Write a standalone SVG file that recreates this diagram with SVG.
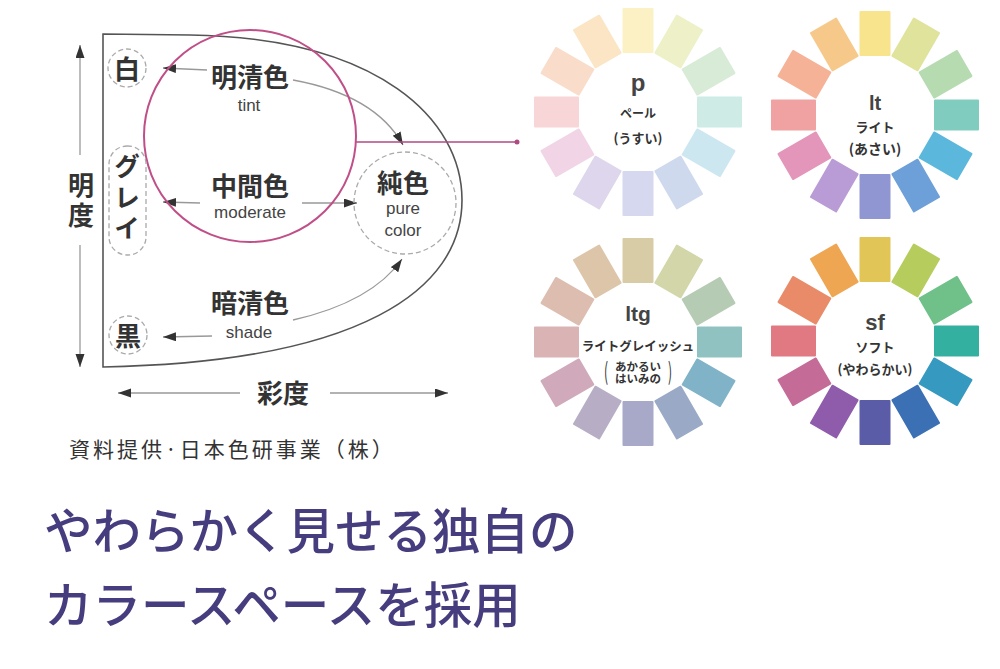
<svg xmlns="http://www.w3.org/2000/svg" xmlns:xlink="http://www.w3.org/1999/xlink" width="1000" height="669" viewBox="0 0 1000 669">
<style>
.jp{font-family:"Noto Sans CJK JP","Noto Sans",sans-serif;fill:#333}
.en{font-family:"Liberation Sans",Arial,sans-serif;fill:#444}
.lbl{font-size:26px;text-anchor:middle}
.vt{font-size:26px;writing-mode:vertical-rl;text-anchor:start;font-weight:bold}
.sub{font-size:17px;text-anchor:middle}
.ln{fill:none;stroke:#999;stroke-width:1.3}
.dash{fill:none;stroke:#aaa;stroke-width:1.3;stroke-dasharray:5 3}
.wt{font-weight:bold;text-anchor:middle}
.title{font-family:"Noto Sans CJK JP",sans-serif;font-size:48.5px;font-weight:500;fill:#463d7e}
</style>
<defs>
<marker id="ah" markerUnits="userSpaceOnUse" markerWidth="14" markerHeight="10" refX="13" refY="4.5" orient="auto">
<path d="M0,0 L13,4.5 L0,9 z" fill="#333"/>
</marker>
<rect id="petal" x="-15.5" y="-104" width="31" height="45" rx="1"/>
</defs>
<rect width="1000" height="669" fill="#fff"/>

<g id="outline">
<path d="M103,34 L190,35 C380,38 462,120 462,200 C462,290 360,362 103,367 Z" fill="none" stroke="#555" stroke-width="1.6"/>
</g>

<g id="axes">
<line class="ln" x1="80" y1="155" x2="80" y2="45" marker-end="url(#ah)"/>
<line class="ln" x1="80" y1="245" x2="80" y2="367" marker-end="url(#ah)"/>
<text class="jp vt" x="81" y="172" letter-spacing="4">明度</text>
<line class="ln" x1="240" y1="393" x2="118" y2="393" marker-end="url(#ah)"/>
<line class="ln" x1="330" y1="393" x2="448" y2="393" marker-end="url(#ah)"/>
<text class="jp lbl" x="283" y="403" font-weight="bold">彩度</text>
</g>

<g id="connectors">
<path class="ln" d="M207,70 L163,68" marker-end="url(#ah)"/>
<path class="ln" d="M293,80 Q375,95 403,145" marker-end="url(#ah)"/>
<path class="ln" d="M200,203 L163,202" marker-end="url(#ah)"/>
<path class="ln" d="M302,203 L357,203" marker-end="url(#ah)"/>
<path class="ln" d="M212,336 L163,337" marker-end="url(#ah)"/>
<path class="ln" d="M293,320 Q372,302 402,259" marker-end="url(#ah)"/>
<line x1="355" y1="142" x2="516" y2="142" stroke="#b04a82" stroke-width="1.5"/>
<circle cx="517" cy="142" r="2.5" fill="#b04a82"/>
</g>

<g id="magenta-circle">
<circle cx="250" cy="136" r="106" fill="none" stroke="#c04f88" stroke-width="2"/>
</g>

<g id="node-white">
<circle class="dash" cx="127" cy="68" r="19"/>
<text class="jp lbl" x="127" y="79" font-weight="bold">白</text>
</g>
<g id="node-gray">
<rect class="dash" x="109" y="146" width="37" height="109" rx="18"/>
<text class="jp vt" x="127" y="153" letter-spacing="5">グレイ</text>
</g>
<g id="node-black">
<circle class="dash" cx="128" cy="335" r="19"/>
<text class="jp lbl" x="128" y="346" font-weight="bold">黒</text>
</g>
<g id="node-tint">
<text class="jp lbl" x="250" y="87" font-weight="bold">明清色</text>
<text class="en sub" x="249" y="111" font-size="16">tint</text>
</g>
<g id="node-moderate">
<text class="jp lbl" x="250" y="196" font-weight="bold">中間色</text>
<text class="en sub" x="250" y="218">moderate</text>
</g>
<g id="node-shade">
<text class="jp lbl" x="250" y="313" font-weight="bold">暗清色</text>
<text class="en sub" x="249" y="338">shade</text>
</g>
<g id="node-pure">
<circle class="dash" cx="405" cy="203" r="51"/>
<text class="jp lbl" x="403" y="193" font-size="31" font-weight="bold">純色</text>
<text class="en sub" x="403" y="214" font-size="18">pure</text>
<text class="en sub" x="403" y="236" font-size="18">color</text>
</g>

<g id="credit">
<text class="jp" x="69" y="457" font-size="21" letter-spacing="3" fill="#444">資料提供·日本色研事業（株）</text>
</g>

<g id="wheel-p" transform="translate(638,112)">
<use href="#petal" fill="#fcf1c4" transform="rotate(0)"/>
<use href="#petal" fill="#eef1c8" transform="rotate(30)"/>
<use href="#petal" fill="#d8ebd6" transform="rotate(60)"/>
<use href="#petal" fill="#cfebe6" transform="rotate(90)"/>
<use href="#petal" fill="#cde7f1" transform="rotate(120)"/>
<use href="#petal" fill="#ced9ee" transform="rotate(150)"/>
<use href="#petal" fill="#d5d8ef" transform="rotate(180)"/>
<use href="#petal" fill="#ddd6ec" transform="rotate(210)"/>
<use href="#petal" fill="#f1d4e5" transform="rotate(240)"/>
<use href="#petal" fill="#f8d6d8" transform="rotate(270)"/>
<use href="#petal" fill="#f9dcc9" transform="rotate(300)"/>
<use href="#petal" fill="#fbe5c5" transform="rotate(330)"/>
<text class="en wt" x="0" y="-21" font-size="24" fill="#222">p</text>
<text class="jp wt" x="0" y="6" font-size="12">ペール</text>
<text class="jp wt" x="0" y="31" font-size="13">(うすい)</text>
</g>

<g id="wheel-lt" transform="translate(875,115)">
<use href="#petal" fill="#f8e48c" transform="rotate(0)"/>
<use href="#petal" fill="#dfe39b" transform="rotate(30)"/>
<use href="#petal" fill="#b6dbb1" transform="rotate(60)"/>
<use href="#petal" fill="#80cdc0" transform="rotate(90)"/>
<use href="#petal" fill="#5bb8dc" transform="rotate(120)"/>
<use href="#petal" fill="#6d9fd8" transform="rotate(150)"/>
<use href="#petal" fill="#9096d1" transform="rotate(180)"/>
<use href="#petal" fill="#b99bd6" transform="rotate(210)"/>
<use href="#petal" fill="#e396b9" transform="rotate(240)"/>
<use href="#petal" fill="#f0a2a2" transform="rotate(270)"/>
<use href="#petal" fill="#f5b297" transform="rotate(300)"/>
<use href="#petal" fill="#f6c98b" transform="rotate(330)"/>
<text class="en wt" x="0" y="-5" font-size="20" fill="#222">lt</text>
<text class="jp wt" x="0" y="17" font-size="13">ライト</text>
<text class="jp wt" x="0" y="39" font-size="14">(あさい)</text>
</g>

<g id="wheel-ltg" transform="translate(638,342)">
<use href="#petal" fill="#d8cca6" transform="rotate(0)"/>
<use href="#petal" fill="#d2d6a8" transform="rotate(30)"/>
<use href="#petal" fill="#b6cbb4" transform="rotate(60)"/>
<use href="#petal" fill="#90c2c1" transform="rotate(90)"/>
<use href="#petal" fill="#80b3c8" transform="rotate(120)"/>
<use href="#petal" fill="#99a9c6" transform="rotate(150)"/>
<use href="#petal" fill="#a8a9c8" transform="rotate(180)"/>
<use href="#petal" fill="#b7aec6" transform="rotate(210)"/>
<use href="#petal" fill="#d0aaba" transform="rotate(240)"/>
<use href="#petal" fill="#dab3b5" transform="rotate(270)"/>
<use href="#petal" fill="#dcbdaf" transform="rotate(300)"/>
<use href="#petal" fill="#dcc5a9" transform="rotate(330)"/>
<text class="en wt" x="0" y="-21" font-size="21" fill="#222">ltg</text>
<text class="jp wt" x="0" y="9" font-size="12.5">ライトグレイッシュ</text>
<text class="jp wt" x="0" y="29" font-size="11.5">あかるい<tspan x="0" dy="12">はいみの</tspan></text>
<text class="jp" x="-32" y="38" font-size="12" text-anchor="middle" transform="translate(-32,38) scale(1,2) translate(32,-38)">(</text>
<text class="jp" x="32" y="38" font-size="12" text-anchor="middle" transform="translate(32,38) scale(1,2) translate(-32,-38)">)</text>
</g>

<g id="wheel-sf" transform="translate(875,341)">
<use href="#petal" fill="#e1c556" transform="rotate(0)"/>
<use href="#petal" fill="#b6cc5d" transform="rotate(30)"/>
<use href="#petal" fill="#6fc089" transform="rotate(60)"/>
<use href="#petal" fill="#34b0a0" transform="rotate(90)"/>
<use href="#petal" fill="#3699c0" transform="rotate(120)"/>
<use href="#petal" fill="#3c70b5" transform="rotate(150)"/>
<use href="#petal" fill="#5b5ca8" transform="rotate(180)"/>
<use href="#petal" fill="#8f5bab" transform="rotate(210)"/>
<use href="#petal" fill="#c56b98" transform="rotate(240)"/>
<use href="#petal" fill="#e07981" transform="rotate(270)"/>
<use href="#petal" fill="#e98b69" transform="rotate(300)"/>
<use href="#petal" fill="#eea653" transform="rotate(330)"/>
<text class="en wt" x="0" y="-11" font-size="22" fill="#222">sf</text>
<text class="jp wt" x="0" y="11" font-size="13">ソフト</text>
<text class="jp wt" x="0" y="33" font-size="13">(やわらかい)</text>
</g>

<g id="title">
<text class="title" x="44" y="549">やわらかく見せる独自の</text>
<text class="title" x="44" y="623">カラースペースを採用</text>
</g>
</svg>
